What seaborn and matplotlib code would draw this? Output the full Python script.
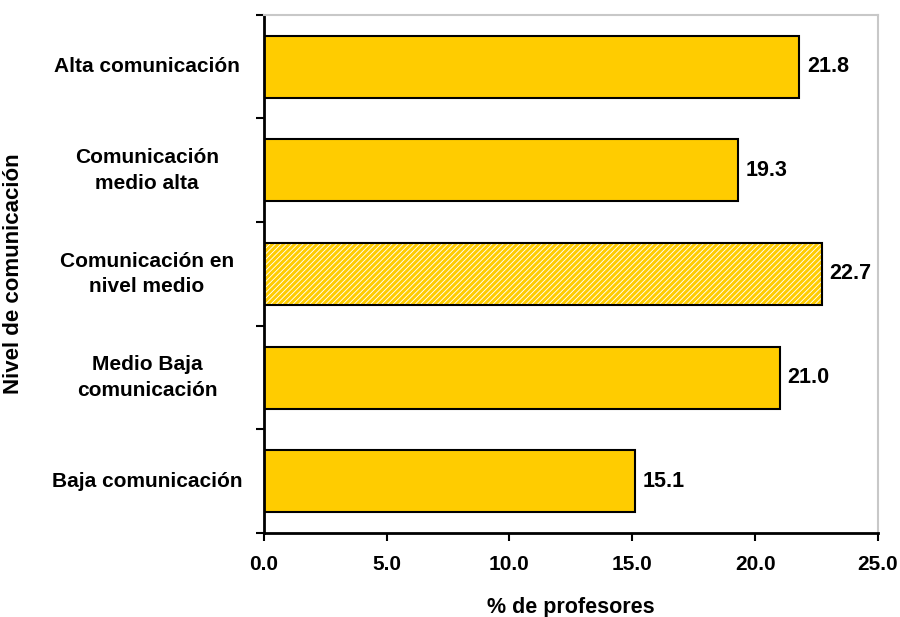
import matplotlib
matplotlib.use("Agg")
import matplotlib.pyplot as plt
import pandas as pd
import seaborn as sns
from matplotlib.patches import Rectangle

categorias = ["Alta comunicación", "Comunicación\nmedio alta", "Comunicación en\nnivel medio",
              "Medio Baja\ncomunicación", "Baja comunicación"]
porcentajes = [21.8, 19.3, 22.7, 21.0, 15.1]
xticks = [0.0, 5.0, 10.0, 15.0, 20.0, 25.0]

sns.set_theme(style="white")
plt.rcParams["font.family"] = ["Liberation Sans", "DejaVu Sans"]
plt.rcParams["font.weight"] = "bold"
plt.rcParams["text.color"] = "black"
plt.rcParams["axes.labelcolor"] = "black"
plt.rcParams["xtick.color"] = "black"
plt.rcParams["ytick.color"] = "black"
plt.rcParams["hatch.linewidth"] = 2.2

df = pd.DataFrame({"nivel": categorias, "pct": porcentajes})

fig = plt.figure(figsize=(9, 6.17), dpi=100)
ax = fig.add_axes([0.293, 0.136, 0.6826, 0.84])
sns.barplot(data=df, y="nivel", x="pct", orient="h", color="#FFCC00",
            edgecolor="black", linewidth=1.5, width=0.6, saturation=1, ax=ax)

# middle bar: yellow/white diagonal hatch, black border drawn on top
mid = ax.patches[2]
mid.set_facecolor("white")
mid.set_edgecolor("#FFCC00")
mid.set_hatch("//////")
mid.set_linewidth(0)
ax.add_patch(Rectangle((mid.get_x(), mid.get_y()), mid.get_width(), mid.get_height(),
                       fill=False, edgecolor="black", linewidth=1.5, zorder=3))

for p, v in zip(ax.patches[:len(porcentajes)], porcentajes):
    ax.text(p.get_width() + 0.3, p.get_y() + p.get_height() / 2, f"{v:.1f}",
            va="center", ha="left", fontsize=15.5, fontweight="bold")

ax.set_xlim(0, 25)
ax.set_ylim(4.5, -0.5)
ax.set_xticks(xticks)
ax.set_xticklabels([f"{t:.1f}" for t in xticks], fontsize=15, fontweight="bold")
ax.set_yticks([i - 0.5 for i in range(6)])
ax.set_yticklabels([])
for i, c in enumerate(categorias):
    ax.text(-0.19, i, c, transform=ax.get_yaxis_transform(), ha="center", va="center",
            fontsize=15, fontweight="bold", multialignment="center", linespacing=1.45)
ax.tick_params(axis="both", direction="out", length=6, width=1.5, color="black",
               bottom=True, left=True)
ax.tick_params(axis="x", pad=10)

for side in ["left", "bottom"]:
    ax.spines[side].set_color("black")
    ax.spines[side].set_linewidth(2)
for side in ["top", "right"]:
    ax.spines[side].set_color("#C8C8C8")
    ax.spines[side].set_linewidth(1.5)

ax.set_xlabel("% de profesores", fontsize=15.5, fontweight="bold")
ax.xaxis.set_label_coords(0.5, -0.124)
ax.set_ylabel("Nivel de comunicación", fontsize=16, fontweight="bold")
ax.yaxis.set_label_coords(-0.39, 0.5)

fig.savefig("out.png", dpi=100)
